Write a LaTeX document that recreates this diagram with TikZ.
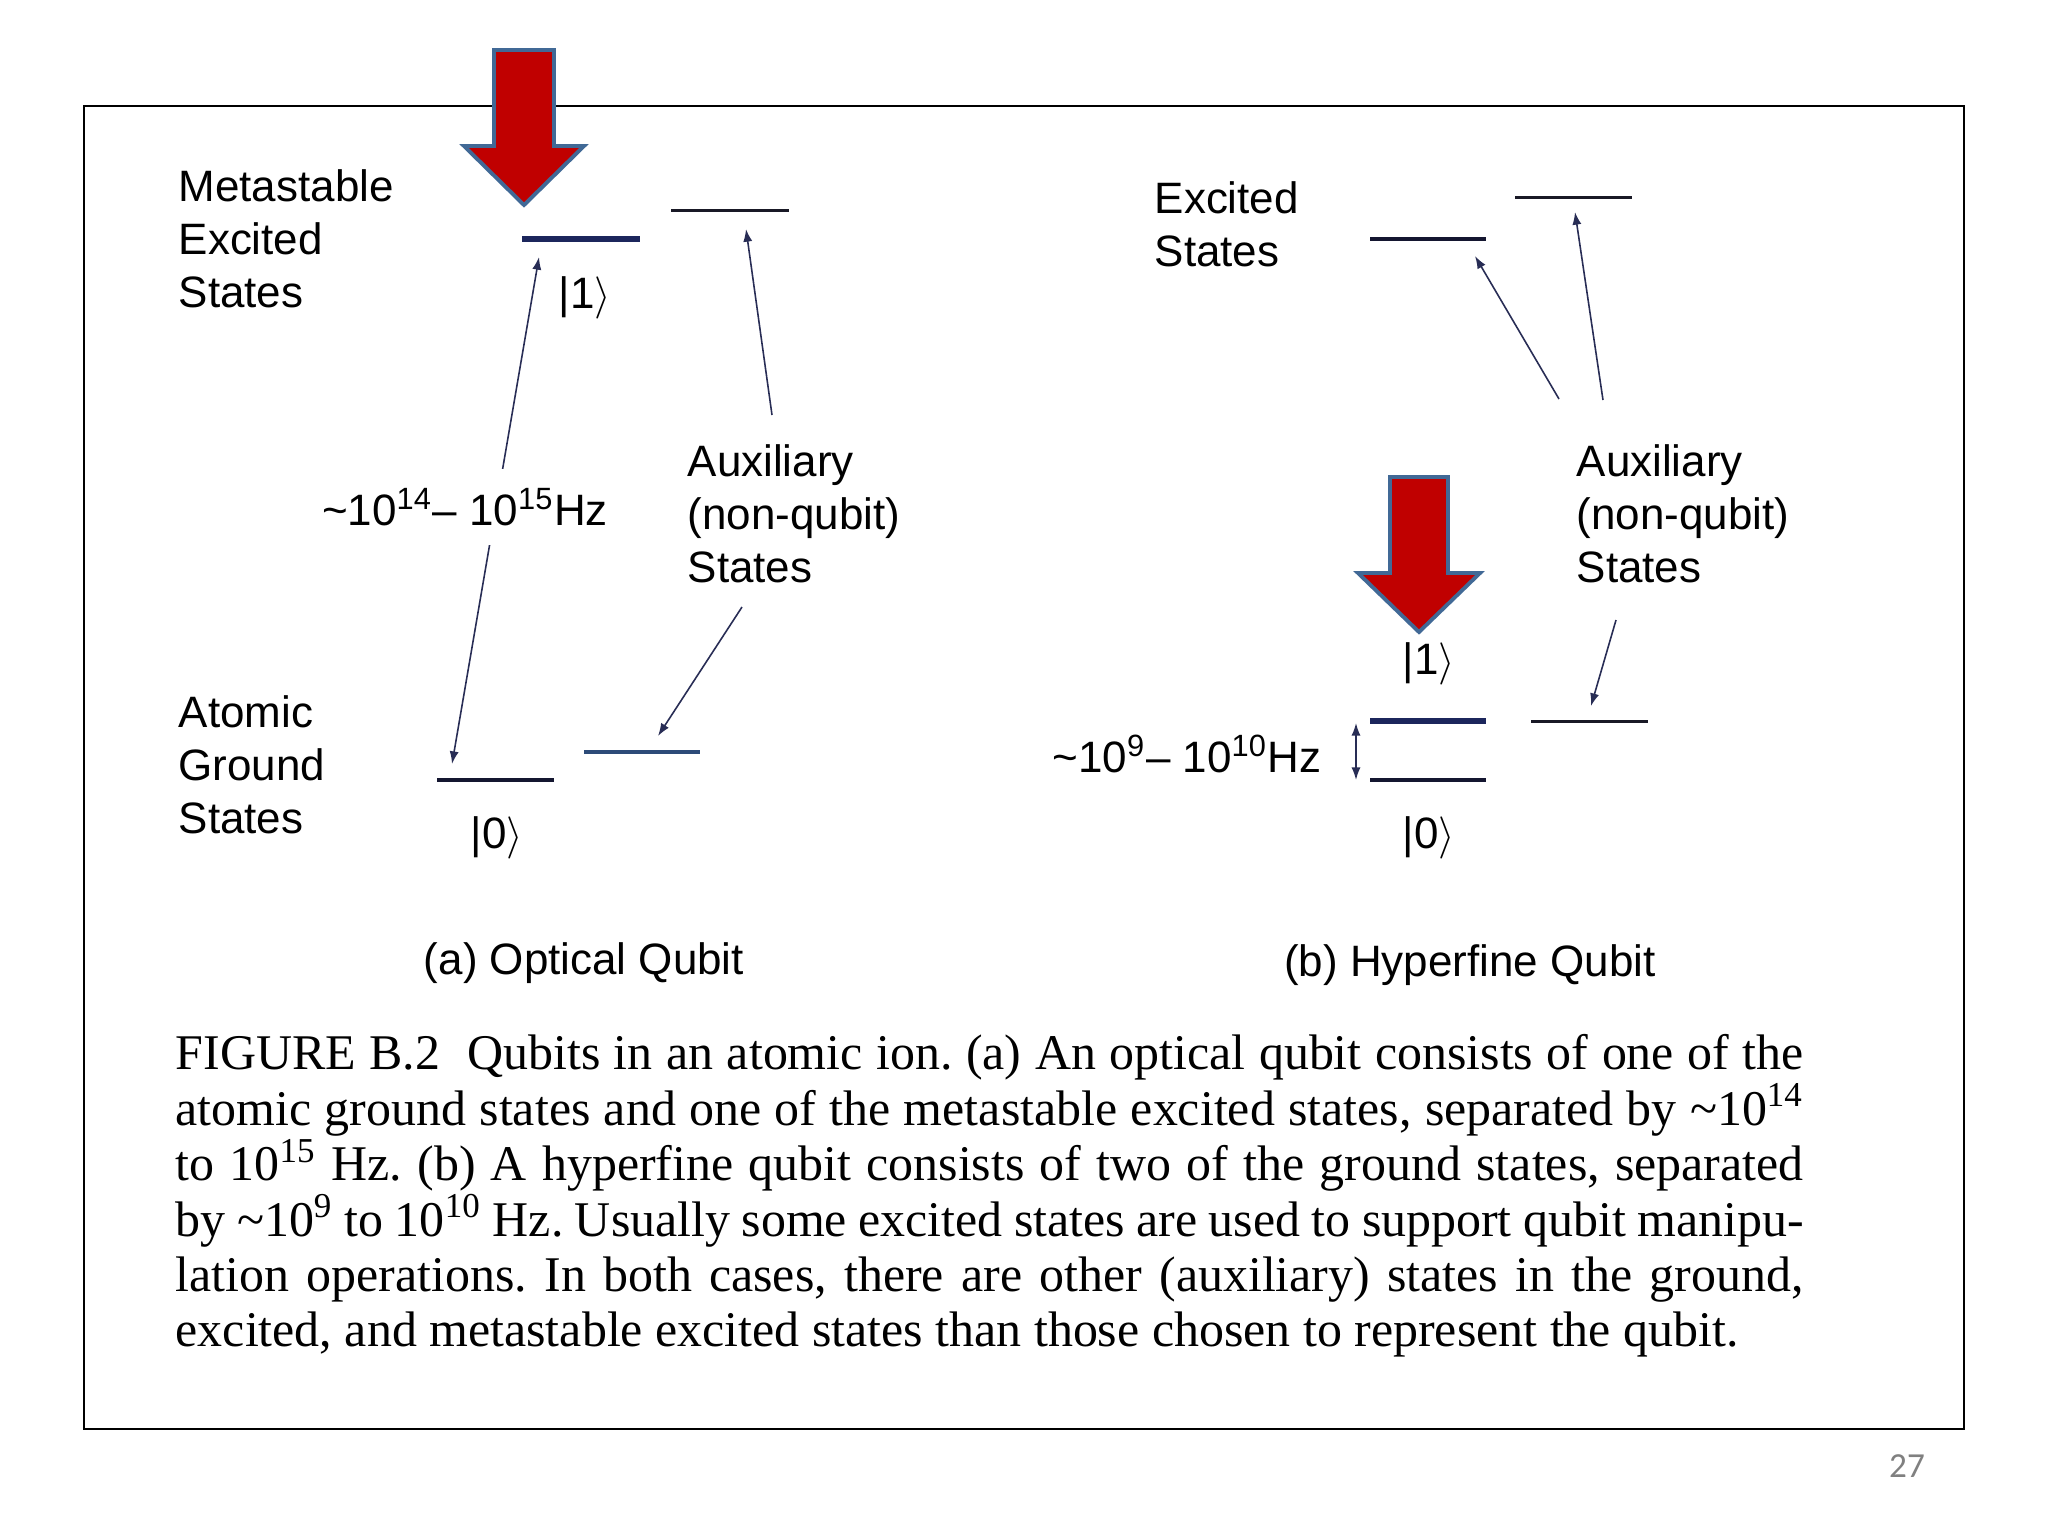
\documentclass[tikz,border=0pt]{standalone}
\usepackage{fontspec}
\setmainfont{Liberation Serif}
\setsansfont{Liberation Sans}
\newfontfamily\pagenofont{Carlito}
\usetikzlibrary{arrows.meta}
\definecolor{arrowred}{RGB}{192,0,0}
\definecolor{arrowedge}{RGB}{65,105,150}
\definecolor{levnavy}{RGB}{28,38,92}
\definecolor{levdark}{RGB}{20,22,48}
\definecolor{levsteel}{RGB}{45,75,120}
\definecolor{levthin}{RGB}{25,25,38}
\definecolor{connclr}{RGB}{40,45,85}
\definecolor{pagegray}{RGB}{128,128,128}
\tikzset{
  lbl/.style={font=\sffamily\fontsize{12.5}{15.1}\selectfont, inner sep=0pt, align=left},
  ket/.style={font=\sffamily\fontsize{12.5}{15.1}\selectfont, inner sep=0pt},
  qubitlev/.style={line width=1.5pt, draw=levnavy},
  darklev/.style={line width=1.3pt, draw=levdark},
  steellev/.style={line width=1.15pt, draw=levsteel},
  thinlev/.style={line width=0.85pt, draw=levthin},
  conn/.style={line width=0.45pt, draw=connclr, -{Latex[length=3.6pt,width=2.6pt]}},
  dconn/.style={line width=0.45pt, draw=connclr, {Latex[length=3.6pt,width=2.6pt]}-{Latex[length=3.6pt,width=2.6pt]}},
  bigarrow/.style={fill=arrowred, draw=arrowedge, line width=1.1pt, line join=miter},
  frame/.style={line width=0.8pt, draw=black}
}
\begin{document}
\begin{tikzpicture}[x=0.01cm,y=-0.01cm]
\fill[white] (0,0) rectangle (2048,1536);
\useasboundingbox (0,0) rectangle (2048,1536);
\draw[frame] (84,106) rectangle (1964,1429);

% ---------- (a) optical qubit ----------
\coordinate (a1w) at (522,239); \coordinate (a1e) at (640,239);
\coordinate (aTw) at (671,210); \coordinate (aTe) at (789,210);
\coordinate (a0w) at (437,780); \coordinate (a0e) at (554,780);
\coordinate (aBw) at (584,752); \coordinate (aBe) at (700,752);
\draw[qubitlev] (a1w) -- (a1e);
\draw[thinlev] (aTw) -- (aTe);
\draw[darklev] (a0w) -- (a0e);
\draw[steellev] (aBw) -- (aBe);

\coordinate (optTop) at (539,257);
\coordinate (optBot) at (452,764);
\draw[dconn] (optBot) -- (optTop);

\coordinate (auxAupS) at (772,415); \coordinate (auxAupE) at (746,229);
\draw[conn] (auxAupS) -- (auxAupE);
\coordinate (auxAdnS) at (742,607); \coordinate (auxAdnE) at (658,736);
\draw[conn] (auxAdnS) -- (auxAdnE);

\node[lbl, anchor=west] (metaLbl) at (178,239) {Metastable\\Excited\\States};
\node[lbl, anchor=west] (groundLbl) at (178,765) {Atomic\\Ground\\States};
\node[lbl, anchor=west] (auxAlbl) at (687,514) {Auxiliary\\(non-qubit)\\States};
\node[ket] (k1a) at (585,298) {|1$\rangle$};
\node[ket] (k0a) at (497,838) {|0$\rangle$};
\node[lbl, fill=white, inner xsep=2pt, inner ysep=0.2cm] (freqA) at (465,507)
  {\textasciitilde10\textsuperscript{14}– 10\textsuperscript{15}Hz};
\node[lbl] (capA) at (584,963) {(a) Optical Qubit};

\draw[bigarrow] (494,50) -- (554,50) -- (554,146) -- (584,146) -- (524,205)
  -- (464,146) -- (494,146) -- cycle;

% ---------- (b) hyperfine qubit ----------
\coordinate (bE1w) at (1370,239); \coordinate (bE1e) at (1486,239);
\coordinate (bE2w) at (1515,197); \coordinate (bE2e) at (1632,197);
\coordinate (b1w) at (1370,721); \coordinate (b1e) at (1486,721);
\coordinate (b0w) at (1370,780); \coordinate (b0e) at (1486,780);
\coordinate (bAw) at (1531,721); \coordinate (bAe) at (1648,721);
\draw[darklev] (bE1w) -- (bE1e);
\draw[thinlev] (bE2w) -- (bE2e);
\draw[qubitlev] (b1w) -- (b1e);
\draw[darklev] (b0w) -- (b0e);
\draw[thinlev] (bAw) -- (bAe);

\coordinate (bup1S) at (1559,399); \coordinate (bup1E) at (1475,256);
\coordinate (bup2S) at (1603,400); \coordinate (bup2E) at (1575,212);
\coordinate (bdnS) at (1616,620); \coordinate (bdnE) at (1591,706);
\draw[conn] (bup1S) -- (bup1E);
\draw[conn] (bup2S) -- (bup2E);
\draw[conn] (bdnS) -- (bdnE);
\coordinate (hfTop) at (1356,723); \coordinate (hfBot) at (1356,780);
\draw[dconn] (hfTop) -- (hfBot);

\node[lbl, anchor=west] (excLbl) at (1154,224) {Excited\\States};
\node[lbl, anchor=west] (auxBlbl) at (1576,514) {Auxiliary\\(non-qubit)\\States};
\node[ket] (k1b) at (1429,664) {|1$\rangle$};
\node[ket] (k0b) at (1429,838) {|0$\rangle$};
\node[lbl] (freqB) at (1187,754)
  {\textasciitilde10\textsuperscript{9}– 10\textsuperscript{10}Hz};
\node[lbl] (capB) at (1470,965) {(b) Hyperfine Qubit};

\draw[bigarrow] (1390,477) -- (1448,477) -- (1448,573) -- (1480,573) -- (1419,632)
  -- (1358,573) -- (1390,573) -- cycle;

% ---------- caption ----------
\node[anchor=north west, inner sep=0pt, text width=16.27cm, align=justify,
      font=\rmfamily\fontsize{14.2}{15.76}\selectfont] (caption) at (175,1034)
{\tolerance=10000\hyphenpenalty=10000\frenchspacing
FIGURE B.2\ \ Qubits in an atomic ion. (a) An optical qubit consists of one of the\linebreak
atomic ground states and one of the metastable excited states, separated by \textasciitilde10\textsuperscript{14}\linebreak
to 10\textsuperscript{15} Hz. (b) A hyperfine qubit consists of two of the ground states, separated\linebreak
by \textasciitilde10\textsuperscript{9} to 10\textsuperscript{10} Hz. Usually some excited states are used to support qubit manipu-\linebreak
lation operations. In both cases, there are other (auxiliary) states in the ground,\linebreak
excited, and metastable excited states than those chosen to represent the qubit.};

\node[font=\pagenofont\fontsize{10}{12}\selectfont, text=pagegray] (pageno) at (1907,1466) {27};
\end{tikzpicture}
\end{document}
